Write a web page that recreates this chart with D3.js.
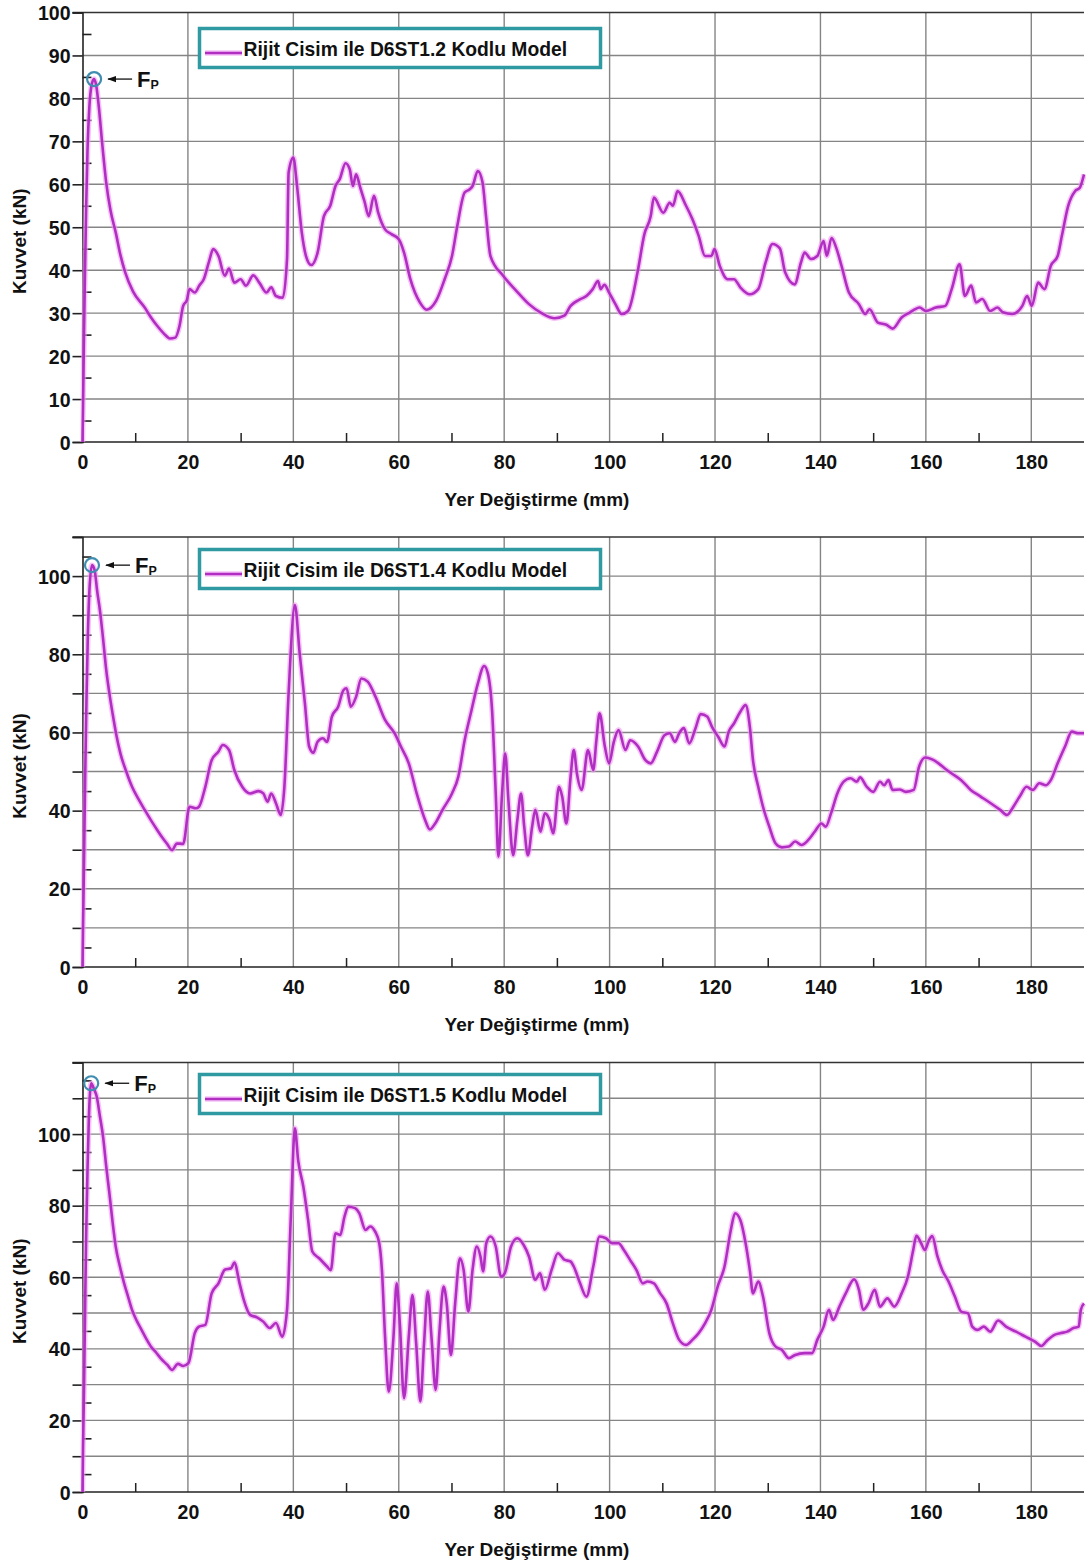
<!DOCTYPE html>
<html><head><meta charset="utf-8">
<script src="https://cdn.jsdelivr.net/npm/d3@7"></script>
<style>
html,body{margin:0;padding:0;background:#fff;}
svg{display:block;font-family:"Liberation Sans",Arial,sans-serif;}
.tick text{font-family:"Liberation Sans",Arial,sans-serif;font-weight:bold;fill:#111;}
</style></head>
<body>
<svg id="chart" width="1086" height="1562"></svg>
<script>
// ---------- data ----------
const xTicks = [0,20,40,60,80,100,120,140,160,180];
const xMinorTicks = [10,30,50,70,90,110,130,150,170];
const yLabelTicks1 = [0,10,20,30,40,50,60,70,80,90,100];
const yLabelTicks2 = [0,20,40,60,80,100];
const yLabelTicks3 = [0,20,40,60,80,100];
const legendLabels = ["Rijit Cisim ile D6ST1.2 Kodlu Model","Rijit Cisim ile D6ST1.4 Kodlu Model","Rijit Cisim ile D6ST1.5 Kodlu Model"];
const yMaxes = [100,110,120];
const xTitle = "Yer Değiştirme (mm)";
const yTitle = "Kuvvet (kN)";

const curve1 = [[0,0],[0.1,8],[0.25,22],[0.45,38],[0.7,55],[0.95,68],[1.3,78],[1.8,83.5],[2.2,84.5],[2.6,83],[3.1,78],[3.7,70],[4.5,60.4],[5.3,54],[6.3,48.8],[7.2,43.5],[8.1,39.5],[9.6,35],[11.8,31.3],[13,29],[14.2,27],[15.4,25.3],[16.6,24.1],[17.6,24.3],[18.4,27],[19.1,31.7],[19.8,33],[20.3,35.6],[21.3,34.8],[22.2,36.5],[23,37.9],[24,42],[24.8,44.9],[25.8,43.3],[27,38.7],[27.8,40.4],[28.8,37.1],[30,37.9],[31,36.4],[32.4,38.8],[33.6,37],[34.9,34.8],[35.8,36],[36.7,34],[38,33.6],[38.8,42.6],[39.1,62.7],[40,66.2],[40.7,59.6],[41.6,48.8],[42.4,43.3],[43.4,41.2],[44.6,44.1],[45.8,52.6],[47,55],[48,59.6],[48.8,61.2],[49.9,64.9],[50.7,63.5],[51.3,59.6],[51.9,62.3],[52.7,59.2],[53.5,56],[54.3,52.6],[55.3,57.3],[56.1,53.4],[57.4,49.5],[58.6,48.4],[60,47.2],[61,44.1],[62.2,37.9],[64,32.5],[65.3,30.8],[67.1,32.9],[68.7,37.9],[70.1,43.3],[71.1,50.3],[72.5,58.1],[73.4,58.8],[74,59.6],[75,63.1],[75.9,60.4],[76.6,52],[77.4,43.3],[79.8,38.7],[82.3,35.2],[84.7,32.1],[87.1,30],[89.6,28.8],[91.4,29.4],[92.6,31.7],[94.2,33.1],[95.6,34],[96.8,35.6],[97.8,37.5],[98.3,35.6],[99,36.6],[99.9,34.8],[101.1,32.1],[102.3,29.8],[103.5,30.5],[105.3,39.5],[106.6,48.4],[107.8,52.6],[108.4,56.9],[110.2,53.4],[111.4,55.7],[112,55],[112.9,58.4],[114.5,55],[115.7,51.9],[116.9,48],[118.1,43.3],[119.3,43.3],[119.9,44.9],[120.9,41],[122.4,37.9],[123.6,37.9],[124.8,36],[126.6,34.4],[128.2,35.6],[129.6,41.8],[130.9,46.1],[132.3,45.1],[133.3,39.5],[135.1,36.7],[136.3,41.8],[137,44.1],[138.2,42.6],[139.4,43.3],[140.6,46.8],[141.2,43.3],[142.1,47.5],[143,45.2],[144,41],[145.4,34.8],[147.3,32.1],[148.5,29.8],[149.3,30.9],[150.9,27.8],[152.5,27.3],[153.7,26.4],[155.4,29],[157,30.2],[157.8,30.8],[158.8,31.3],[160,30.5],[161.9,31.3],[163.7,31.7],[164.9,35.6],[166.4,41.4],[167.4,34],[168.6,36.4],[169.5,32.5],[170.7,33.3],[172.2,30.5],[173.6,31.3],[174.6,30.2],[176.4,29.8],[178.3,31.7],[179.2,34],[180.1,31.7],[181.3,37.1],[182.5,35.6],[183.7,41],[185,43.3],[185.8,48],[187,55],[188.3,58.4],[189.2,59.2],[190,62.3]];

const curve2 = [[0,0],[0.1,10],[0.3,28],[0.5,48],[0.75,68],[1,84],[1.3,96],[1.8,102.8],[2.3,101.5],[2.8,96],[3.3,91.3],[3.9,84],[4.5,76],[5.1,70],[5.7,64.9],[6.4,59.5],[7.2,54.6],[8.3,50],[9.4,46.1],[10.6,43],[11.8,40.2],[13,37.5],[14.2,35],[15.1,33.2],[16,31.6],[17,29.9],[17.9,31.6],[19.1,31.5],[20.3,41],[21.5,40.6],[22.1,41],[23.3,46.1],[24.5,52.9],[25.8,55.1],[26.6,56.8],[27.8,55.5],[28.8,50.4],[30.3,46.1],[31.8,44.4],[33.4,45],[34.3,44.4],[35.1,42.3],[35.8,44.4],[36.7,41.9],[37.6,38.9],[38.3,46.1],[39.1,70],[40.3,92.6],[41.2,80.2],[42.2,67.4],[43,56.4],[43.8,54.8],[44.6,57.6],[45.6,58.5],[46.4,57.6],[47.3,64],[48.5,66.6],[49.5,70.8],[50.1,71.3],[50.9,66.6],[51.9,69.1],[52.9,73.8],[54.1,73],[55.6,69.1],[57.4,63.2],[59.2,59.8],[60.4,56.4],[61.9,52.1],[63.4,44.4],[65,37.6],[65.9,35.2],[66.9,36.7],[68.3,40.2],[70.1,44.4],[71.3,48.7],[72.5,58],[73.8,65.7],[75,72.5],[76.2,77],[76.9,75.1],[77.7,65.7],[78.4,44.4],[78.9,28.2],[79.6,44.4],[80.2,54.6],[80.8,42.7],[81.7,28.6],[82.5,37.6],[83.2,44.4],[83.8,35.9],[84.5,28.6],[85.3,35.9],[85.9,40.2],[86.9,34.6],[87.7,39.3],[88.6,37.6],[89.3,34.2],[90.4,46.1],[91,43.6],[91.8,36.7],[92.6,48.7],[93.2,55.5],[93.8,49.5],[94.7,45.3],[95.9,55.5],[96.9,50.4],[97.5,58.1],[98.1,64.9],[99.1,56.4],[99.9,52.1],[100.8,57.6],[101.7,60.6],[103,55.5],[103.9,58],[105.4,56.4],[106.8,52.9],[107.8,52.1],[109,55.1],[110.4,59.3],[111.4,59.8],[112.4,57.6],[113.2,59.8],[114.1,61.1],[115.1,57.2],[116.3,61.1],[117.3,64.7],[118.5,64.1],[119.4,61.5],[120.6,58.9],[121.8,56.4],[122.6,60.2],[123.6,62.3],[124.8,65.3],[125.8,67],[126.6,61.5],[127.2,52.9],[128.2,46.1],[129.1,41],[130.3,35.9],[131.5,31.6],[132.7,30.6],[134,30.8],[135.2,32.1],[136.4,31.2],[137.7,32.5],[138.9,34.6],[140.2,36.7],[141,35.9],[142,39.3],[143.2,44.4],[144.4,47.4],[145.7,48.3],[146.9,47.4],[147.5,48.5],[148.8,46.1],[150,44.8],[151.3,47.4],[152.1,46.5],[152.9,47.8],[153.7,45.3],[155,45.4],[156.2,44.8],[157.7,45.3],[158.7,51.2],[159.9,53.6],[161.2,53.1],[162.4,52.1],[163.6,50.8],[164.9,49.5],[166.7,47.8],[168.5,45.3],[170.4,43.6],[172.3,41.9],[174.1,40.2],[175.4,38.9],[176.6,41],[177.8,43.6],[179.1,46.1],[180.3,45.3],[181.5,47],[182.8,46.5],[183.7,47.8],[185,52.1],[186.4,56.4],[187.7,60.2],[188.9,59.8],[190,59.8]];

const curve3 = [[0,0],[0.1,12],[0.3,30],[0.5,52],[0.7,72],[0.95,90],[1.2,104],[1.65,114.2],[2.2,112.5],[2.7,110.5],[3.3,105],[3.9,99.3],[4.5,91],[5.1,83.5],[5.7,75.5],[6.3,68.6],[7.1,63],[7.9,58.3],[8.7,54.3],[9.4,50.9],[10.3,47.8],[11.2,45.3],[12.1,42.8],[13,40.6],[14,38.9],[14.8,37.4],[16.1,35.5],[17,34.1],[18.1,35.8],[19.1,35.2],[20.1,36],[21.3,44.4],[22.1,46.2],[23.3,46.7],[24.5,55.5],[25.8,58.3],[27,62.1],[28.2,62.5],[28.8,64.1],[29.8,58.3],[30.6,53.7],[31.8,49.5],[33.1,48.8],[34.3,47.6],[35.5,45.8],[36.7,47.2],[37.9,43.4],[38.8,50.9],[39.5,76],[40.3,101.6],[40.9,92.8],[41.9,85.3],[42.8,76],[43.6,67.2],[44.9,65.3],[46.4,63],[47.1,62],[48,72.3],[48.9,71.8],[49.7,76.9],[50.4,79.7],[51.7,79.3],[52.5,77.9],[53.7,73.2],[54.6,74.2],[55.5,72.8],[56.3,69.5],[56.8,62.1],[57.4,43.4],[58.1,28],[59,43.4],[59.6,58.3],[60.2,47.1],[61,26.2],[61.9,43.4],[62.6,55],[63.3,41.6],[64.1,25.3],[64.8,41.6],[65.5,56],[66.2,43.4],[67,28.5],[67.7,44.4],[68.5,57.4],[69.1,52.7],[69.9,38.3],[70.7,52.7],[71.6,65.3],[72.3,62.1],[73.2,50.4],[74,62.1],[74.8,68.6],[75.5,65.8],[76,61.6],[76.6,69.5],[77.4,71.4],[78.4,68.6],[79.4,60.2],[80.1,61.1],[81.3,68.6],[82.5,70.9],[83.7,69],[84.7,65.8],[85.9,59.3],[86.8,61.1],[87.7,56.5],[89,62.1],[90.2,66.7],[91.4,64.9],[92.6,64.4],[93.2,63],[94.4,58.3],[95.6,54.6],[96.9,63],[98.1,71.4],[99.3,70.9],[100.5,69.5],[101.7,69.5],[102.7,67.6],[103.9,64.8],[105.1,62],[106.3,58.3],[107.2,58.8],[108.4,58.3],[109.6,55.5],[110.8,52.7],[112,47.1],[113.2,42.5],[114.5,41.1],[115.7,42.5],[116.9,44.4],[118.1,47.1],[119.3,50.9],[120.5,57.4],[121.8,63],[123,73.2],[123.8,77.9],[124.8,76],[125.8,69.5],[126.6,62],[127.2,55.5],[128.2,58.8],[129.1,54.6],[130.3,44.4],[131.5,40.6],[132.7,39.7],[134,37.4],[135.2,38.3],[137,38.8],[138.4,38.8],[139.4,42.5],[140.6,46.2],[141.6,50.9],[142.4,48.1],[143.6,51.8],[144.8,55.5],[146.4,59.4],[147.3,56.5],[148.1,50.9],[149.1,52.7],[150.3,56.5],[151.3,51.8],[152.7,54.1],[154,51.8],[155.4,55.5],[156.6,60.2],[157.6,67.6],[158.2,71.6],[159.1,69.5],[159.8,67.6],[160.6,70.4],[161.2,71.5],[162.2,65.8],[163.1,62],[164.3,58.8],[165.5,54.6],[166.7,50.4],[168,49.9],[168.8,46.2],[169.8,45.3],[171,46.2],[172.2,44.8],[173.7,47.9],[175.2,46.2],[177.1,44.8],[178.9,43.4],[180.7,42],[181.9,40.8],[183.1,42.5],[184.4,43.9],[185.6,44.4],[186.8,44.8],[188,45.8],[189,46.2],[189.4,50.9],[190,52.7]];

const curves = [curve1, curve2, curve3];
const yLabelTicks = [yLabelTicks1, yLabelTicks2, yLabelTicks3];

// ---------- layout ----------
const layout = [
  {top:12.5, bottom:442, legendTop:28.5},
  {top:537, bottom:967, legendTop:549.5},
  {top:1062.5, bottom:1492, legendTop:1074.5}
];
const X0 = 82.5, X1 = 1084;
const lineColor = "#b02fc2", glowColor = "#f19af2", legendStroke = "#2f9aa2", circleColor = "#3f8db0";
const tickFont = "19.5px";

const svg = d3.select("#chart");
const defs = svg.append("defs");
defs.append("marker").attr("id","arrow").attr("viewBox","0 0 10 10")
  .attr("refX",9).attr("refY",5).attr("markerWidth",7).attr("markerHeight",7)
  .attr("orient","auto-start-reverse")
  .append("path").attr("d","M0,1.5 L10,5 L0,8.5 z").attr("fill","#111");

const x = d3.scaleLinear().domain([0,190]).range([X0,X1]);

curves.forEach((data, i) => {
  const L = layout[i];
  const yMax = yMaxes[i];
  const y = d3.scaleLinear().domain([0,yMax]).range([L.bottom, L.top]);
  const g = svg.append("g");
  const gridY = d3.range(10, yMax, 10);
  const gridX = xTicks.filter(v => v > 0);

  // grid
  g.append("g").selectAll("line").data(gridY).join("line")
    .attr("x1",X0).attr("x2",X1).attr("y1",d=>y(d)).attr("y2",d=>y(d))
    .attr("stroke","#858585").attr("stroke-width",1.4);
  g.append("g").selectAll("line").data(gridX).join("line")
    .attr("x1",d=>x(d)).attr("x2",d=>x(d)).attr("y1",L.top).attr("y2",L.bottom)
    .attr("stroke","#858585").attr("stroke-width",1.4);

  // top border
  g.append("line").attr("x1",X0-10).attr("x2",X1).attr("y1",L.top).attr("y2",L.top)
    .attr("stroke","#333").attr("stroke-width",1.6);

  // left axis: outward ticks each 10, labels per panel
  const yOut = d3.axisLeft(y).tickValues(d3.range(0, yMax + 1, 10)).tickSize(10).tickPadding(2)
    .tickFormat(d => yLabelTicks[i].includes(d) ? d : "");
  const ga = g.append("g").attr("transform",`translate(${X0},0)`).call(yOut);
  ga.select(".domain").attr("stroke","#222").attr("stroke-width",1.6);
  ga.selectAll(".tick line").attr("stroke","#222").attr("stroke-width",1.6);
  ga.selectAll(".tick text").attr("font-size",tickFont).attr("dy","0.36em");
  // inner minor ticks at 5 offsets
  const yIn = d3.axisLeft(y).tickValues(d3.range(5, yMax, 10)).tickSize(-9).tickFormat("");
  const gb = g.append("g").attr("transform",`translate(${X0},0)`).call(yIn);
  gb.select(".domain").remove();
  gb.selectAll(".tick line").attr("stroke","#222").attr("stroke-width",1.6);

  // bottom axis
  const xAx = d3.axisBottom(x).tickValues(xTicks).tickSize(0).tickPadding(13);
  const gx = g.append("g").attr("transform",`translate(0,${L.bottom})`).call(xAx);
  gx.select(".domain").attr("stroke","#222").attr("stroke-width",1.6)
    .attr("d", `M${X0},0H${X1}`);
  gx.selectAll(".tick text").attr("font-size",tickFont).attr("dy","0.71em");
  const xMin = d3.axisBottom(x).tickValues(xMinorTicks).tickSize(-9).tickFormat("");
  const gxm = g.append("g").attr("transform",`translate(0,${L.bottom})`).call(xMin);
  gxm.select(".domain").remove();
  gxm.selectAll(".tick line").attr("stroke","#222").attr("stroke-width",1.5);

  // axis titles
  svg.append("text").attr("transform",`translate(26,${(L.top+L.bottom)/2 + 14}) rotate(-90)`)
    .attr("text-anchor","middle").attr("font-size","19px").attr("font-weight","bold").attr("fill","#111")
    .text(yTitle);
  svg.append("text").attr("x",537).attr("y",L.bottom+64)
    .attr("text-anchor","middle").attr("font-size","19px").attr("font-weight","bold").attr("fill","#111")
    .text(xTitle);

  // curve
  const clipId = "clip"+i;
  defs.append("clipPath").attr("id",clipId).append("rect")
    .attr("x",X0-2).attr("y",L.top-4).attr("width",X1-X0+4).attr("height",L.bottom-L.top+4);
  const line = d3.line().x(d=>x(d[0])).y(d=>y(d[1])).curve(d3.curveMonotoneX);
  const cg = g.append("g").attr("clip-path",`url(#${clipId})`);
  cg.append("path").datum(data).attr("d",line).attr("fill","none")
    .attr("stroke",glowColor).attr("stroke-width",5.5).attr("stroke-opacity",0.6).attr("stroke-linejoin","round");
  cg.append("path").datum(data).attr("d",line).attr("fill","none")
    .attr("stroke",lineColor).attr("stroke-width",2.6).attr("stroke-linejoin","round");

  // Fp annotation
  const peak = data.reduce((a,b)=> b[1]>a[1]?b:a);
  const px = x(peak[0]), py = y(peak[1]);
  g.append("circle").attr("cx",px).attr("cy",py).attr("r",7)
    .attr("fill","none").attr("stroke",circleColor).attr("stroke-width",2.2);
  g.append("line").attr("x1",px+38).attr("y1",py).attr("x2",px+14).attr("y2",py)
    .attr("stroke","#111").attr("stroke-width",1.3).attr("marker-end","url(#arrow)");
  const ft = g.append("text").attr("x",px+43).attr("y",py+8).attr("font-weight","bold").attr("fill","#111");
  ft.append("tspan").attr("font-size","22px").text("F");
  ft.append("tspan").attr("font-size","12.5px").attr("dy","2").text("P");

  // legend
  const lg = g.append("g");
  lg.append("rect").attr("x",199.5).attr("y",L.legendTop).attr("width",401).attr("height",39)
    .attr("fill","#fff").attr("stroke",legendStroke).attr("stroke-width",3.5);
  lg.append("line").attr("x1",205).attr("x2",242).attr("y1",L.legendTop+24.5).attr("y2",L.legendTop+24.5)
    .attr("stroke",glowColor).attr("stroke-width",5.5).attr("stroke-opacity",0.6);
  lg.append("line").attr("x1",205).attr("x2",242).attr("y1",L.legendTop+24.5).attr("y2",L.legendTop+24.5)
    .attr("stroke",lineColor).attr("stroke-width",2.6);
  lg.append("text").attr("x",243.5).attr("y",L.legendTop+27).attr("font-size","19.3px")
    .attr("font-weight","bold").attr("fill","#111").text(legendLabels[i]);
});
</script>
</body></html>
